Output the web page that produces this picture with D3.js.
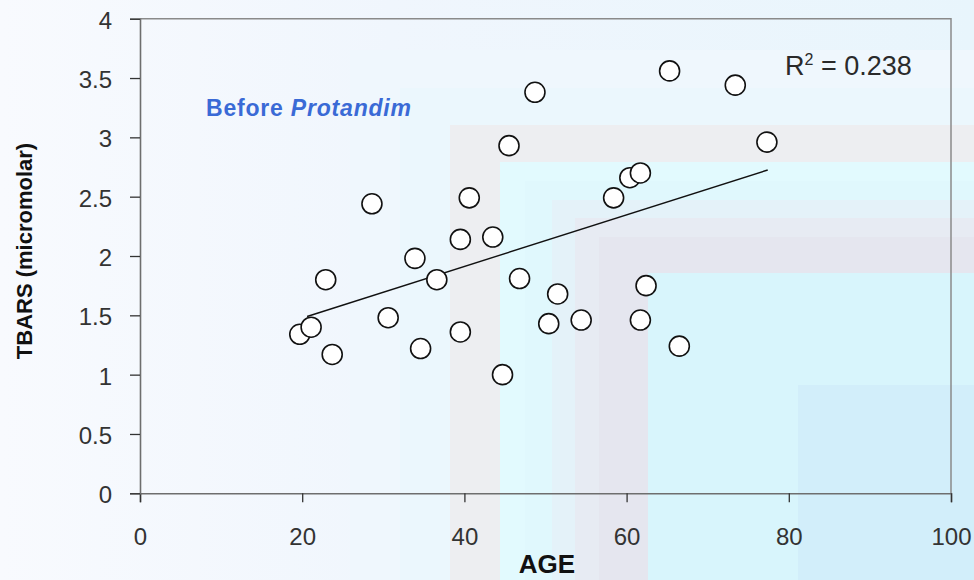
<!DOCTYPE html>
<html>
<head>
<meta charset="utf-8">
<script src="https://cdn.jsdelivr.net/npm/d3@7"></script>
<style>
  body { margin: 0; padding: 0; background: #f7f9fe; }
  svg { display: block; }
</style>
</head>
<body>
<svg id="chart" width="974" height="580"></svg>
<script>
// values
var ages  = [19.7, 21.1, 22.9, 23.7, 28.6, 30.6, 33.9, 34.6, 36.6, 39.5, 39.5, 40.6, 43.5, 44.7, 45.5,
             46.8, 48.7, 50.4, 51.5, 54.4, 58.4, 60.4, 61.7, 61.7, 62.4, 65.3, 66.5, 73.4, 77.3];
var tbars = [1.34, 1.40, 1.80, 1.17, 2.44, 1.48, 1.98, 1.22, 1.80, 2.14, 1.36, 2.49, 2.16, 1.00, 2.93,
             1.81, 3.38, 1.43, 1.68, 1.46, 2.49, 2.66, 2.70, 1.46, 1.75, 3.56, 1.24, 3.44, 2.96];
var trendAge   = [20.6, 77.4];
var trendTbars = [1.49, 2.725];
var xTicks = [0, 20, 40, 60, 80, 100];
var yTicks = [0, 0.5, 1, 1.5, 2, 2.5, 3, 3.5, 4];
var rSquared = "0.238";

var svg = d3.select("#chart");
var width = 974, height = 580;

var margins = { top: 18.7, bottom: 86.7, left: 140, right: 23 };

var xScale = d3.scaleLinear().domain([0, 100]).range([margins.left, width - margins.right]);
var yScale = d3.scaleLinear().domain([0, 4]).range([height - margins.bottom, margins.top]);

// background: soft gradient plus stacked tinted panels (office-style fill)
var defs = svg.append("defs");
var grad = defs.append("linearGradient").attr("id", "bgGrad")
    .attr("x1", "0%").attr("x2", "100%").attr("y1", "0%").attr("y2", "0%");
grad.append("stop").attr("offset", "0%").attr("stop-color", "#f8fafe");
grad.append("stop").attr("offset", "40%").attr("stop-color", "#f0f6fd");
grad.append("stop").attr("offset", "100%").attr("stop-color", "#e8f5fc");

svg.append("rect").attr("width", width).attr("height", height).attr("fill", "url(#bgGrad)");

var panels = [
    [350, 50, "#eff7fd"],
    [400, 88, "#ebf7fd"],
    [450, 125, "#edeef1"],
    [500, 162, "#e2fafe"],
    [525, 181, "#e0f8fd"],
    [552, 200, "#e4f2f9"],
    [575, 218, "#e7ebf3"],
    [599, 237, "#e5e6ef"],
    [648, 273, "#d8f5fc"],
    [798, 385, "#d2eefa"]
];
svg.append("g").selectAll("rect")
    .data(panels)
    .enter().append("rect")
    .attr("x", function(d) { return d[0]; })
    .attr("y", function(d) { return d[1]; })
    .attr("width", function(d) { return width - d[0]; })
    .attr("height", function(d) { return height - d[1]; })
    .attr("fill", function(d) { return d[2]; });

// plot frame (top and right)
svg.append("path")
    .attr("d", "M" + xScale(0) + "," + yScale(4) + "H" + xScale(100) + "V" + yScale(0))
    .attr("fill", "none").attr("stroke", "#8a8a8a").attr("stroke-width", 1.5);

// axes
var xAxis = svg.append("g")
    .attr("transform", "translate(0," + yScale(0) + ")")
    .call(d3.axisBottom(xScale).tickValues(xTicks).tickSize(9).tickPadding(26).tickFormat(d3.format("d")));
var yAxis = svg.append("g")
    .attr("transform", "translate(" + xScale(0) + ",0)")
    .call(d3.axisLeft(yScale).tickValues(yTicks).tickSize(10).tickPadding(18).tickFormat(function(d) { return String(d); }));

[xAxis, yAxis].forEach(function(ax) {
    ax.select(".domain").attr("stroke", "#6e6e6e").attr("stroke-width", 1.6);
    ax.selectAll(".tick line").attr("stroke", "#333").attr("stroke-width", 1.3);
    ax.selectAll(".tick text")
        .attr("fill", "#333")
        .style("font-family", "'Liberation Sans', Arial, sans-serif")
        .style("font-size", "24px");
});
yAxis.selectAll(".tick text").attr("dy", "0.40em");

// trend line
var line = d3.line()
    .x(function(d) { return xScale(d[0]); })
    .y(function(d) { return yScale(d[1]); });
svg.append("path")
    .datum(d3.zip(trendAge, trendTbars))
    .attr("d", line)
    .attr("fill", "none")
    .attr("stroke", "#111")
    .attr("stroke-width", 1.4);

// points
svg.selectAll(".dots")
    .data(d3.zip(ages, tbars))
    .enter().append("circle")
    .attr("class", "dots")
    .attr("cx", function(d) { return xScale(d[0]); })
    .attr("cy", function(d) { return yScale(d[1]); })
    .attr("r", 10)
    .attr("fill", "#fff")
    .attr("stroke", "#111")
    .attr("stroke-width", 1.6);

// labels
svg.append("text")
    .attr("x", 547).attr("y", 573)
    .style("text-anchor", "middle")
    .style("font-family", "'Liberation Sans', Arial, sans-serif")
    .style("font-weight", "bold").style("font-size", "26px")
    .attr("fill", "#111")
    .text("AGE");

svg.append("text")
    .attr("transform", "translate(32,251) rotate(-90)")
    .style("text-anchor", "middle")
    .style("font-family", "'Liberation Sans', Arial, sans-serif")
    .style("font-weight", "bold").style("font-size", "22px")
    .attr("fill", "#111")
    .text("TBARS (micromolar)");

var before = svg.append("text")
    .attr("x", 206).attr("y", 116)
    .style("font-family", "'Liberation Sans', Arial, sans-serif")
    .style("font-weight", "bold").style("font-size", "23px")
    .style("letter-spacing", "0.8px")
    .attr("fill", "#3a6ad6");
before.append("tspan").text("Before ");
before.append("tspan").style("font-style", "italic").text("Protandim");

var r2 = svg.append("text")
    .attr("x", 785).attr("y", 75)
    .style("font-family", "'Liberation Sans', Arial, sans-serif")
    .style("font-size", "27px")
    .attr("fill", "#2a2a2a");
r2.append("tspan").text("R");
r2.append("tspan").attr("dy", -10).style("font-size", "16px").text("2");
r2.append("tspan").attr("dy", 10).text(" = " + rSquared);
</script>
</body>
</html>
